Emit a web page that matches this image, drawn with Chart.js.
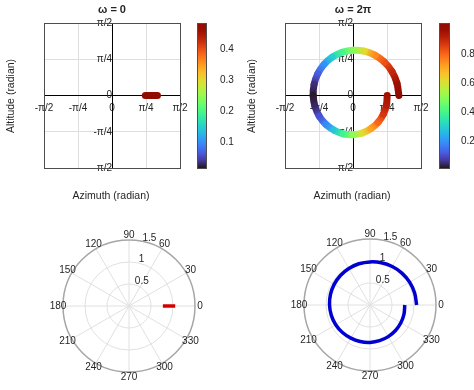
<!DOCTYPE html>
<html>
<head>
<meta charset="utf-8">
<script src="https://cdn.jsdelivr.net/npm/chart.js@4.4.1/dist/chart.umd.min.js"></script>
<style>
  body { margin: 0; background: #fff; }
  #wrap { position: relative; width: 474px; height: 390px; }
  #wrap canvas { position: absolute; left: 0; top: 0; }
</style>
</head>
<body>
<div id="wrap">
  <canvas id="still" width="474" height="390"></canvas>
  <canvas id="stillBar" width="474" height="390"></canvas>
  <canvas id="spin" width="474" height="390"></canvas>
  <canvas id="spinBar" width="474" height="390"></canvas>
  <canvas id="stillPolar" width="474" height="390"></canvas>
  <canvas id="spinPolar" width="474" height="390"></canvas>
</div>
<script>
// ω = 0 : angle (deg), radius (rad), colour value
const stillTheta = [0, 0, 0, 0];
const stillR = [0.77, 0.87, 0.96, 1.05];
const stillC = [0.48, 0.48, 0.48, 0.48];

// ω = 2π : spiral read every 15 deg
const spinTheta = [0, 15, 30, 45, 60, 75, 90, 105, 120, 135, 150, 165, 180,
  195, 210, 225, 240, 255, 270, 285, 300, 315, 330, 345, 360];
const spinR = [1.06, 1.05, 1.04, 1.025, 1.01, 0.995, 0.98, 0.97, 0.96, 0.95, 0.94, 0.93, 0.92,
  0.91, 0.90, 0.885, 0.87, 0.86, 0.85, 0.84, 0.83, 0.82, 0.81, 0.80, 0.79];
const spinC = [1.0, 0.96, 0.9, 0.83, 0.75, 0.62, 0.5, 0.4, 0.3, 0.2, 0.12, 0.05, 0.02,
  0.04, 0.1, 0.18, 0.28, 0.39, 0.5, 0.61, 0.71, 0.8, 0.87, 0.92, 0.95];

const PI = Math.PI;
const azTicks = [-PI / 2, -PI / 4, 0, PI / 4, PI / 2];
const azLabels = ['-π/2', '-π/4', '0', 'π/4', 'π/2'];
const stillBarTicks = [0.1, 0.2, 0.3, 0.4];
const stillBarRange = [0.016, 0.484];
const spinBarTicks = [0.2, 0.4, 0.6, 0.8];
const spinBarRange = [0.014, 1.014];
const polarAngles = [0, 30, 60, 90, 120, 150, 180, 210, 240, 270, 300, 330];
const polarRings = [0.5, 1, 1.5];

const FONT = 'Liberation Sans, Arial, Helvetica, sans-serif';
const INK = '#262626';
Chart.defaults.font.family = FONT;
Chart.defaults.font.size = 10;
Chart.defaults.color = INK;
Chart.defaults.animation = false;
Chart.defaults.plugins.legend.display = false;
Chart.defaults.plugins.tooltip.enabled = false;

// turbo colormap (polynomial fit)
function turbo(t) {
  t = Math.min(1, Math.max(0, t));
  const r = 0.13572138 + t * (4.61539260 + t * (-42.66032258 + t * (132.13108234 + t * (-152.94239396 + t * 59.28637943))));
  const g = 0.09140261 + t * (2.19418839 + t * (4.84296658 + t * (-14.18503333 + t * (4.27729857 + t * 2.82956604))));
  const b = 0.10667330 + t * (12.64194608 + t * (-60.58204836 + t * (110.36276771 + t * (-89.90310912 + t * 27.34824973))));
  const c = v => Math.round(255 * Math.min(1, Math.max(0, v)));
  return `rgb(${c(r)},${c(g)},${c(b)})`;
}

function toXY(theta, r) {
  return theta.map((t, i) => ({ x: r[i] * Math.cos(t * PI / 180), y: r[i] * Math.sin(t * PI / 180) }));
}

function pad(a) {
  return { left: a[0], top: a[1], right: 474 - a[2], bottom: 390 - a[3] };
}

// free text (titles, axis names)
const textPlugin = {
  id: 'texts',
  afterDraw(chart, args, opts) {
    const ctx = chart.ctx;
    (opts.items || []).forEach(it => {
      ctx.save();
      ctx.font = it.font || `10.5px ${FONT}`;
      ctx.fillStyle = INK;
      ctx.textAlign = 'center';
      ctx.textBaseline = 'middle';
      ctx.translate(it.x, it.y);
      if (it.rotate) ctx.rotate(-PI / 2);
      ctx.fillText(it.text, 0, 0);
      ctx.restore();
    });
  }
};

const boxPlugin = {
  id: 'box',
  beforeDatasetsDraw(chart) {
    const { ctx, chartArea: a } = chart;
    ctx.save();
    ctx.strokeStyle = '#4d4d4d';
    ctx.lineWidth = 1;
    ctx.strokeRect(Math.round(a.left) + 0.5, Math.round(a.top) + 0.5,
      Math.round(a.right - a.left), Math.round(a.bottom - a.top));
    ctx.restore();
  }
};

function azAxis(pos) {
  return {
    type: 'linear', position: pos, min: -PI / 2, max: PI / 2,
    afterBuildTicks: s => { s.ticks = azTicks.map(v => ({ value: v })); },
    ticks: { callback: (v, i) => azLabels[i], padding: 7, autoSkip: false, maxRotation: 0 },
    grid: { drawTicks: false, color: c => (c.tick && c.tick.value === 0) ? 'rgba(0,0,0,0)' : '#dedede' },
    border: { color: '#000', width: 1 }
  };
}

function skyChart(id, area, title, theta, r, c, range) {
  const canvas = document.getElementById(id);
  const g2d = canvas.getContext('2d');
  const norm = v => (v - range[0]) / (range[1] - range[0]);
  // colour runs smoothly from one point to the next
  const segColor = s => {
    const grad = g2d.createLinearGradient(s.p0.x, s.p0.y, s.p1.x, s.p1.y);
    grad.addColorStop(0, turbo(norm(c[s.p0DataIndex])));
    grad.addColorStop(1, turbo(norm(c[s.p1DataIndex])));
    return grad;
  };
  const cx = (area[0] + area[2]) / 2;
  return new Chart(canvas, {
    type: 'scatter',
    data: {
      datasets: [{
        data: toXY(theta, r),
        showLine: true,
        tension: 0.35,
        pointRadius: 0,
        borderWidth: 7,
        borderCapStyle: 'round',
        borderJoinStyle: 'round',
        borderColor: turbo(norm(c[0])),
        segment: { borderColor: segColor }
      }]
    },
    options: {
      responsive: false,
      layout: { padding: pad(area) },
      scales: { x: azAxis({ y: 0 }), y: azAxis({ x: 0 }) },
      plugins: {
        texts: {
          items: [
            { text: title, x: cx, y: 10, font: `bold 11px ${FONT}` },
            { text: 'Azimuth (radian)', x: cx - 1, y: 196 },
            { text: 'Altitude (radian)', x: area[0] - 33, y: 96, rotate: true }
          ]
        }
      }
    },
    plugins: [boxPlugin, textPlugin]
  });
}

function colorBar(id, area, range, ticks, padding) {
  return new Chart(document.getElementById(id), {
    type: 'scatter',
    data: { datasets: [] },
    options: {
      responsive: false,
      layout: { padding: Object.assign(pad(area), { right: 474 - area[2] - 40 }) },
      scales: {
        x: { display: false, min: 0, max: 1 },
        y: {
          position: 'right', min: range[0], max: range[1],
          afterBuildTicks: s => { s.ticks = ticks.map(v => ({ value: v })); },
          afterFit: s => { s.width = 40; },
          ticks: { padding: padding, callback: v => v.toFixed(1) },
          grid: { display: false },
          border: { display: false }
        }
      }
    },
    plugins: [{
      id: 'ramp',
      beforeDraw(chart) {
        const { ctx, chartArea: a } = chart;
        const g = ctx.createLinearGradient(0, a.bottom, 0, a.top);
        for (let i = 0; i <= 20; i++) g.addColorStop(i / 20, turbo(i / 20));
        ctx.save();
        ctx.fillStyle = g;
        ctx.fillRect(a.left, a.top, a.right - a.left, a.bottom - a.top);
        ctx.strokeStyle = '#4d4d4d';
        ctx.lineWidth = 1;
        ctx.strokeRect(a.left + 0.5, a.top + 0.5, a.right - a.left - 1, a.bottom - a.top);
        ctx.restore();
      }
    }]
  });
}

// polar grid drawn through the x/y scales
const polarGrid = {
  id: 'polarGrid',
  beforeDatasetsDraw(chart) {
    const { ctx, scales: { x, y } } = chart;
    const X = (rr, deg) => x.getPixelForValue(rr * Math.cos(deg * PI / 180));
    const Y = (rr, deg) => y.getPixelForValue(rr * Math.sin(deg * PI / 180));
    const rMax = polarRings[polarRings.length - 1];
    const px = x.getPixelForValue(1) - x.getPixelForValue(0);
    ctx.save();
    ctx.strokeStyle = '#e0e0e0';
    ctx.lineWidth = 1;
    polarAngles.forEach(a => {
      ctx.beginPath();
      ctx.moveTo(X(0, a), Y(0, a));
      ctx.lineTo(X(rMax, a), Y(rMax, a));
      ctx.stroke();
    });
    polarRings.forEach((rr, i) => {
      const last = i === polarRings.length - 1;
      ctx.strokeStyle = last ? '#a6a6a6' : '#e0e0e0';
      ctx.lineWidth = last ? 1.5 : 1;
      ctx.beginPath();
      ctx.arc(X(0, 0), Y(0, 0), rr * px, 0, 2 * PI);
      ctx.stroke();
    });
    ctx.fillStyle = INK;
    ctx.font = `10px ${FONT}`;
    ctx.textBaseline = 'middle';
    ctx.textAlign = 'center';
    polarAngles.forEach(a => ctx.fillText(String(a), X(rMax * 1.075, a), Y(rMax * 1.075, a)));
    ctx.textAlign = 'left';
    polarRings.forEach(rr => ctx.fillText(String(rr), X(rr, 80) + 2, Y(rr, 80) - 3));
    ctx.restore();
  }
};

function polarChart(id, area, theta, r, color) {
  const hidden = { display: false, min: -1.5, max: 1.5 };
  return new Chart(document.getElementById(id), {
    type: 'scatter',
    data: {
      datasets: [{
        data: toXY(theta, r),
        showLine: true,
        tension: 0.35,
        pointRadius: 0,
        borderWidth: 3.5,
        borderColor: color,
        borderCapStyle: 'butt'
      }]
    },
    options: {
      responsive: false,
      layout: { padding: pad(area) },
      scales: { x: hidden, y: hidden }
    },
    plugins: [polarGrid]
  });
}

skyChart('still', [44, 23, 180, 168], 'ω = 0', stillTheta, stillR, stillC, stillBarRange);
colorBar('stillBar', [197, 23, 207, 168], stillBarRange, stillBarTicks, 5);
skyChart('spin', [285, 23, 421, 168], 'ω = 2π', spinTheta, spinR, spinC, spinBarRange);
colorBar('spinBar', [439, 23, 450, 168], spinBarRange, spinBarTicks, 3);
polarChart('stillPolar', [63, 240, 195, 372], stillTheta, stillR, '#d40000');
polarChart('spinPolar', [304, 239, 436, 371], spinTheta, spinR, '#0000d0');
</script>
</body>
</html>
